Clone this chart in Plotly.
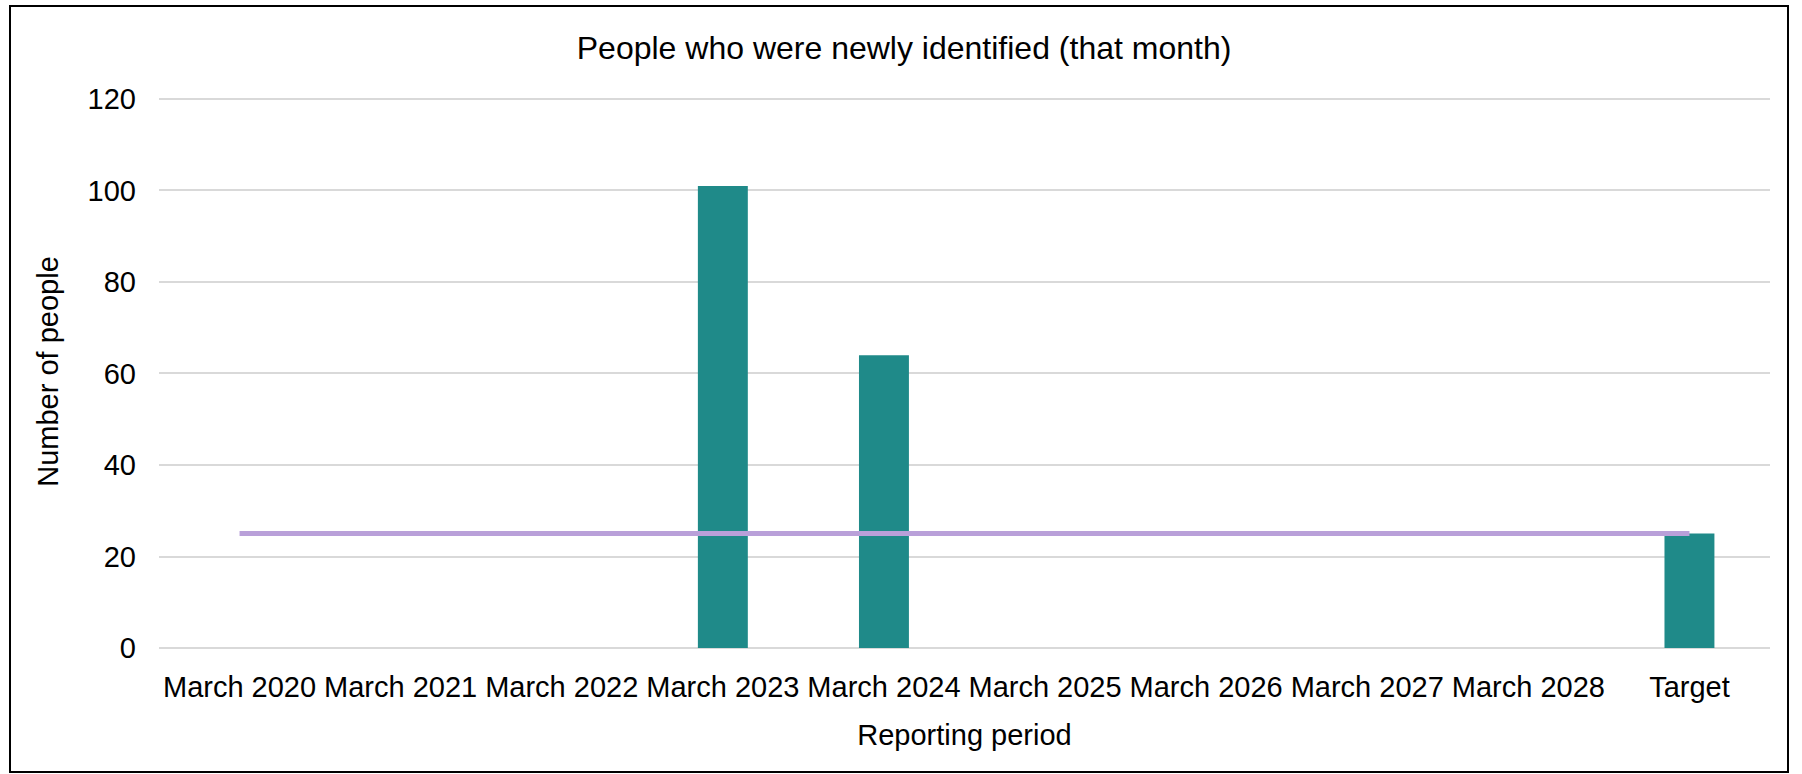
import plotly.graph_objects as go

categories = ["March 2020", "March 2021", "March 2022", "March 2023", "March 2024",
              "March 2025", "March 2026", "March 2027", "March 2028", "Target"]
newly_identified = [None, None, None, 101, 64, None, None, None, None, 25]
target_line = [25, 25, 25, 25, 25, 25, 25, 25, 25, 25]
y_ticks = [0, 20, 40, 60, 80, 100, 120]

FONT = "Liberation Sans, Arial, sans-serif"

fig = go.Figure()
fig.add_trace(go.Bar(
    x=categories, y=newly_identified, name="Newly identified",
    marker=dict(color="#1F8A89", line=dict(width=0)),
))
fig.add_trace(go.Scatter(
    x=categories, y=target_line, name="Target", mode="lines",
    line=dict(color="#B9A0D9", width=5),
))

PLOT_H = 774 - 95 - 126
fig.update_layout(
    width=1802, height=774,
    margin=dict(l=159, r=32, t=95, b=126),
    paper_bgcolor="white", plot_bgcolor="white",
    showlegend=False,
    bargap=0.69,
    font=dict(family=FONT, size=29, color="#000000"),
    title=dict(text="People who were newly identified (that month)",
               x=0.5017, xref="container", xanchor="center",
               y=1 - 48 / 774, yref="container", yanchor="middle",
               font=dict(family=FONT, size=32, color="#000000")),
    shapes=[dict(type="rect", xref="paper", yref="paper",
                 x0=-149 / 1611, x1=1629 / 1611, y0=-124 / PLOT_H, y1=(PLOT_H + 89) / PLOT_H,
                 line=dict(color="#000000", width=2), fillcolor="rgba(0,0,0,0)")],
)
fig.update_xaxes(
    type="category", showgrid=False, showline=False, zeroline=False, ticks="",
    tickfont=dict(family=FONT, size=29, color="#000000"),
    ticklabelstandoff=19,
    title=dict(text="Reporting period", standoff=22,
               font=dict(family=FONT, size=29, color="#000000")),
)
fig.update_yaxes(
    range=[0, 120.87], tickvals=y_ticks, showgrid=True, gridcolor="#D9D9D9", gridwidth=2,
    zeroline=True, zerolinecolor="#D9D9D9", zerolinewidth=2,
    showline=False, ticks="",
    tickfont=dict(family=FONT, size=29, color="#000000"),
    ticklabelstandoff=22,
    title=dict(text="Number of people", standoff=20,
               font=dict(family=FONT, size=29, color="#000000")),
)

fig.write_html("out.html", config={"displayModeBar": False},
               post_script="document.body.style.margin='0';document.body.style.overflow='hidden';")
